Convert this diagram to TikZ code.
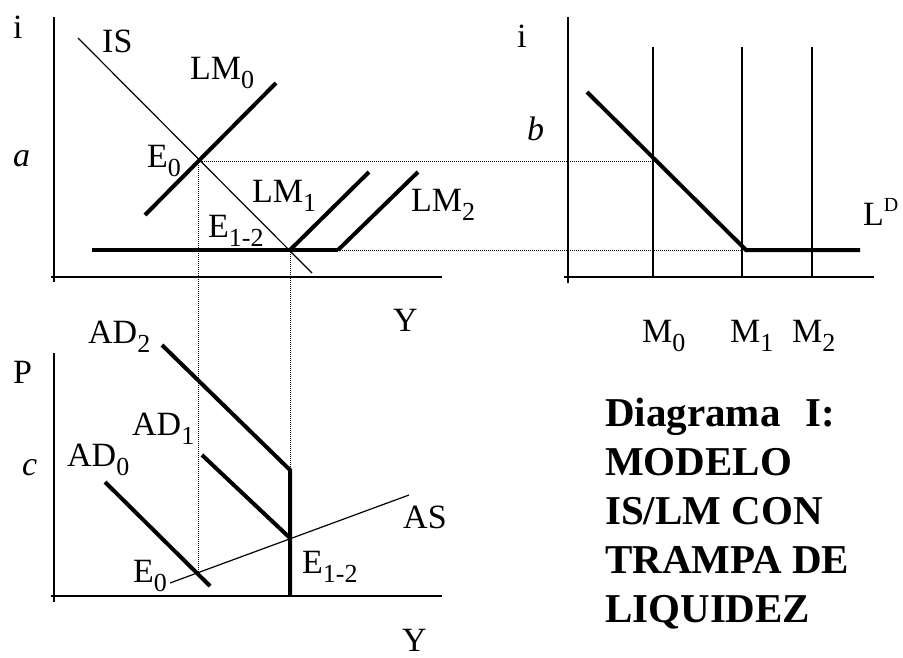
\documentclass[tikz,border=0pt]{standalone}
\usepackage{fontspec}
\setmainfont{Liberation Serif}
\usepackage{tikz}
\newcommand{\sbs}[1]{\raisebox{-9pt}{\fontsize{26}{26}\selectfont #1}}
\newcommand{\sps}[1]{\raisebox{14pt}{\fontsize{20}{20}\selectfont #1}}

\begin{document}
\begin{tikzpicture}[
    x=1pt, y=-1pt,
    axis/.style={line width=1.2pt},
    thin curve/.style={line width=1.2pt},
    thick curve/.style={line width=4pt},
    guide/.style={line width=0.6pt, dash pattern=on 1pt off 1pt},
    lbl/.style={anchor=base west, inner sep=0pt, font=\fontsize{34}{40}\selectfont},
    title/.style={anchor=base west, inner sep=0pt, align=left, font=\bfseries\fontsize{41}{49}\selectfont}
]
    \useasboundingbox (0,0) rectangle (903,657);

    % key points
    \coordinate (E0) at (198,161);
    \coordinate (E12) at (290,250);
    \coordinate (kink2) at (338,250);
    \coordinate (M0b) at (653,161);
    \coordinate (M1b) at (742,250);
    \coordinate (E0low) at (198,573);
    \coordinate (ADtop) at (290,470);

    % IS/LM panel
    \draw[axis] (54,17) -- (54,282);
    \draw[axis] (51,277) -- (442,277);
    \draw[thin curve] (78,38) -- (312,273);
    \draw[thick curve] (145,215) -- (276,83);
    \draw[thick curve] (92,250) -- (kink2);
    \draw[thick curve] (E12) -- (369,172);
    \draw[thick curve] (kink2) -- (418,172);
    \node[lbl] (iTop) at (13,38) {i};
    \node[lbl] (aLbl) at (13,166) {\itshape a};
    \node[lbl] (isLbl) at (102,52) {IS};
    \node[lbl] (lm0Lbl) at (190,79) {LM\sbs{0}};
    \node[lbl] (e0Lbl) at (147,167) {E\sbs{0}};
    \node[lbl] (lm1Lbl) at (252,202) {LM\sbs{1}};
    \node[lbl] (lm2Lbl) at (411,211) {LM\sbs{2}};
    \node[lbl] (e12Lbl) at (208,237) {E\sbs{1-2}};
    \node[lbl] (yTop) at (393,331) {Y};

    % money market panel
    \draw[axis] (568,17) -- (568,283);
    \draw[axis] (564,277) -- (874,277);
    \foreach \mx in {653,742,812}
        \draw[thin curve] (\mx,47) -- (\mx,277);
    \draw[thick curve] (587,92) -- (746,250) -- (860,250);
    \node[lbl] (iRight) at (517,47) {i};
    \node[lbl] (bLbl) at (527,140) {\itshape b};
    \node[lbl] (ldLbl) at (863,225) {L\sps{D}};
    \node[lbl] (m0Lbl) at (642,342) {M\sbs{0}};
    \node[lbl] (m1Lbl) at (730,342) {M\sbs{1}};
    \node[lbl] (m2Lbl) at (792,342) {M\sbs{2}};

    % AD/AS panel
    \draw[axis] (54,353) -- (54,602);
    \draw[axis] (51,596) -- (442,596);
    \draw[thick curve] (162,345) -- (ADtop) -- (290,596);
    \draw[thick curve] (202,455) -- (290,538);
    \draw[thick curve] (105,482) -- (210,586);
    \draw[thin curve] (170,583) -- (409,495);
    \node[lbl] (pLbl) at (13,383) {P};
    \node[lbl] (cLbl) at (22,475) {\itshape c};
    \node[lbl] (ad2Lbl) at (88,343) {AD\sbs{2}};
    \node[lbl] (ad1Lbl) at (132,435) {AD\sbs{1}};
    \node[lbl] (ad0Lbl) at (67,466) {AD\sbs{0}};
    \node[lbl] (asLbl) at (403,528) {AS};
    \node[lbl] (e0LowLbl) at (133,582) {E\sbs{0}};
    \node[lbl] (e12LowLbl) at (302,573) {E\sbs{1-2}};
    \node[lbl] (yLow) at (402,651) {Y};

    % guides
    \draw[guide] (E0) -- (M0b);
    \draw[guide] (kink2) -- (M1b);
    \draw[guide] (E0) -- (E0low);
    \draw[guide] (E12) -- (ADtop);

    \node[title] (titulo) at (605,622) {Diagrama\hspace*{0.35em} I:\\MODELO\\IS/LM CON\\TRAMPA DE\\LIQUIDEZ};
\end{tikzpicture}
\end{document}
